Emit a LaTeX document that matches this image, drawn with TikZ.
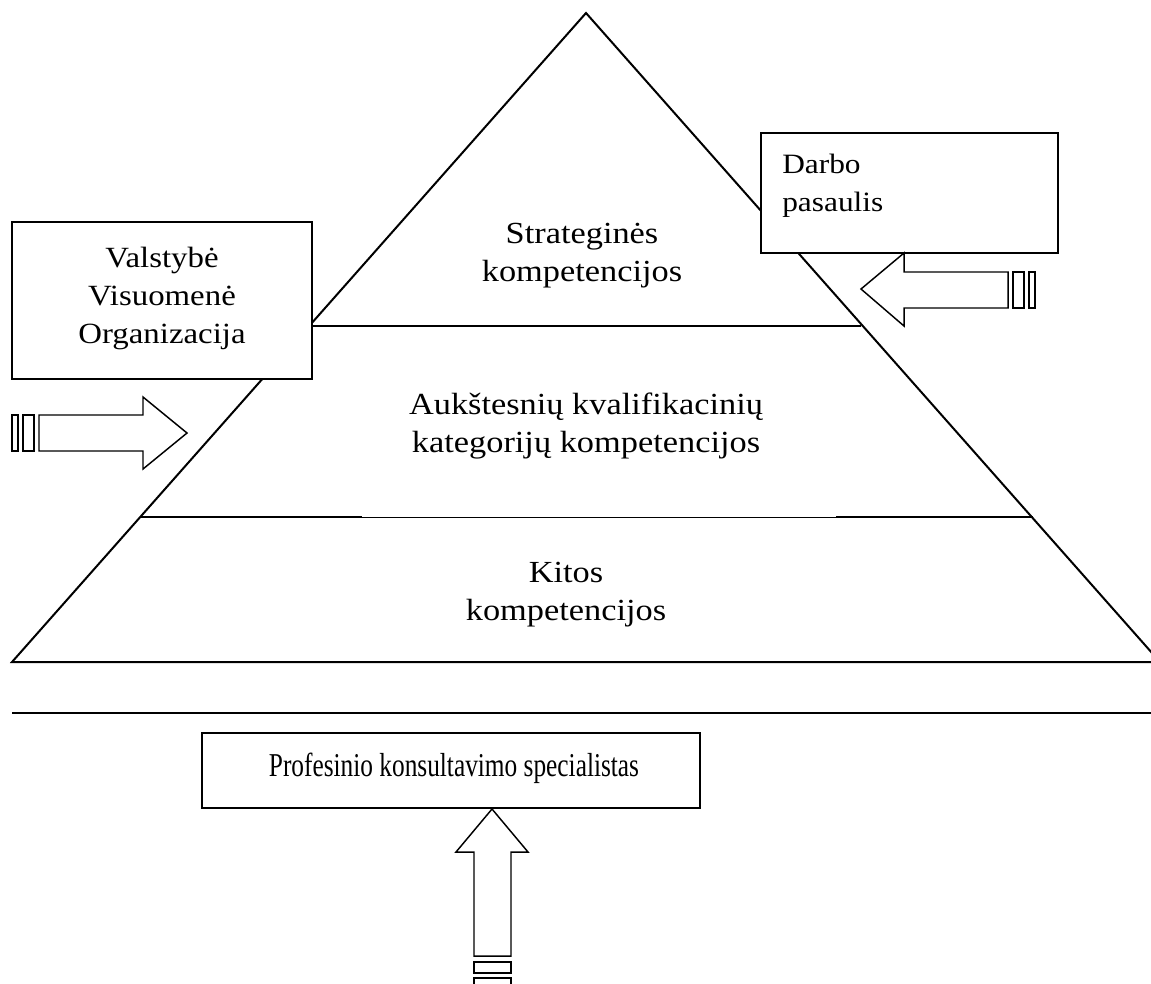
\documentclass[tikz,border=0pt]{standalone}
\usepackage{fontspec}
\setmainfont{Liberation Serif}[FakeStretch=1.12]
\newfontfamily\narrowserif{Liberation Serif}[FakeStretch=0.76]
\usetikzlibrary{positioning}

\begin{document}
\begin{tikzpicture}[x=0.75pt,y=-0.75pt]
  \tikzstyle{line} = [draw=black, line width=1.5pt]
  \tikzstyle{thin} = [draw=black, line width=0.75pt]
  \tikzstyle{box} = [rectangle, draw=black, line width=1.5pt, fill=white]
  \tikzstyle{txt} = [align=center, inner sep=0pt, font=\fontsize{22}{28.5}\selectfont]
  \tikzstyle{bigtxt} = [txt, font=\fontsize{23}{28.5}\selectfont]
  \tikzstyle{blockarrow} = [draw=black, line width=1.1pt, fill=white, line join=miter]

  \useasboundingbox (0,0) rectangle (1151,983);
  \clip (0,0) rectangle (1151,983);

  % pyramid
  \coordinate (apex) at (586,13);
  \coordinate (baseL) at (12,662);
  \coordinate (baseR) at (1160,662);
  \draw [line] (baseL) -- (apex) -- (baseR) -- cycle;

  % layer borders
  \coordinate (topL) at (312,326);
  \coordinate (topR) at (861,326);
  \coordinate (midL) at (140,517);
  \coordinate (midA) at (362,517);
  \coordinate (midB) at (836,517);
  \coordinate (midR) at (1033,517);
  \draw [line] (topL) -- (topR);
  \draw [line] (midL) -- (midA);
  \draw [thin] (midA) -- (midB);
  \draw [line] (midB) -- (midR);

  \node (strat) [bigtxt] at (582,256) {Strateginės\\kompetencijos};
  \node (high) [bigtxt] at (586,426) {Aukštesnių kvalifikacinių\\kategorijų kompetencijos};
  \node (other) [bigtxt] at (566,595) {Kitos\\kompetencijos};

  % boxes
  \node (state) [box, minimum width=225pt, minimum height=117.75pt] at (162,300.5) {};
  \node [txt] at (162,298) {Valstybė\\Visuomenė\\Organizacija};
  \node (world) [box, minimum width=222.75pt, minimum height=90pt] at (909.5,193) {};
  \node [txt, font=\fontsize{21}{28.5}\selectfont, align=left, anchor=north west] at (782,154) {Darbo\\pasaulis};

  % separator
  \coordinate (sepL) at (12,713);
  \coordinate (sepR) at (1151,713);
  \draw [line] (sepL) -- (sepR);

  \node (consult) [box, minimum width=373.5pt, minimum height=56.25pt] at (451,770.5) {};
  \node [txt, font=\narrowserif\fontsize{25}{28}\selectfont] at (454,768) {Profesinio konsultavimo specialistas};

  % arrow into the pyramid from the left
  \draw [blockarrow] (39,415) -- (143,415) -- (143,397) -- (187,433) -- (143,469)
    -- (143,451) -- (39,451) -- cycle;
  \draw [blockarrow] (12,415) rectangle (18,451);
  \draw [blockarrow] (23,415) rectangle (34,451);

  % arrow into the pyramid from the right
  \draw [blockarrow] (1008,272) -- (904,272) -- (904,253) -- (861,289) -- (904,326)
    -- (904,308) -- (1008,308) -- cycle;
  \draw [blockarrow] (1013,272) rectangle (1024,308);
  \draw [blockarrow] (1029,272) rectangle (1035,308);

  % arrow up to the specialist
  \draw [blockarrow] (474,956) -- (474,852) -- (456,852) -- (consult.south -| 492,0)
    -- (528,852) -- (511,852) -- (511,956) -- cycle;
  \draw [blockarrow] (474,962) rectangle (511,973);
  \draw [blockarrow] (474,978) rectangle (511,990);
\end{tikzpicture}
\end{document}
